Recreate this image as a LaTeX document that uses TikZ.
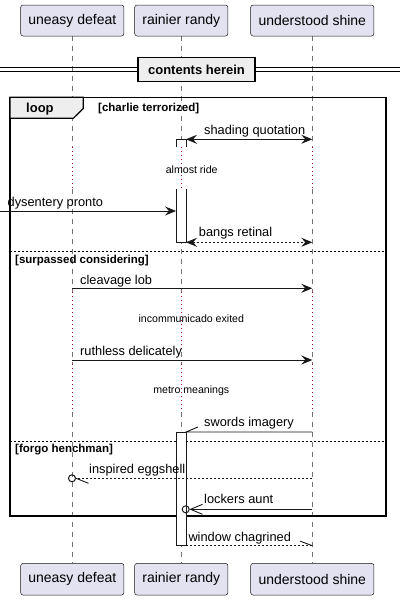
\documentclass[tikz,border=0pt]{standalone}
\usepackage{fontspec}
\setmainfont{Liberation Sans}
\usetikzlibrary{arrows.meta}
\definecolor{pfill}{HTML}{E2E2F0}
\definecolor{pline}{HTML}{181818}
\definecolor{gfill}{HTML}{EEEEEE}
\definecolor{delayc}{HTML}{A80036}
\tikzset{
  partbox/.style={draw=pline,line width=0.5pt,fill=pfill,rounded corners=2.5pt,font=\fontsize{14}{16}\selectfont,inner sep=0,anchor=center},
  lifel/.style={draw=black!55,line width=0.6pt,dash pattern=on 5pt off 5pt},
  delayl/.style={draw=delayc,line width=0.7pt,dash pattern=on 0.8pt off 3.2pt},
  msgtxt/.style={font=\fontsize{12.8}{14}\selectfont,anchor=base west,inner sep=0},
  delaytxt/.style={font=\fontsize{10.6}{12}\selectfont,anchor=center,inner sep=0},
  guardtxt/.style={font=\bfseries\fontsize{11.5}{13}\selectfont,anchor=base west,inner sep=0},
  msgline/.style={draw=pline,line width=0.9pt},
  retline/.style={draw=pline,line width=0.9pt,dash pattern=on 2pt off 2pt},
  actbox/.style={draw=pline,line width=0.9pt,fill=white},
  fullhead/.style={-{Stealth[length=11pt,width=9pt,inset=4pt]}},
  bothhead/.style={{Stealth[length=11pt,width=9pt,inset=4pt]}-{Stealth[length=11pt,width=9pt,inset=4pt]}},
  framel/.style={draw=black,line width=1.6pt},
  sepl/.style={draw=black,line width=0.7pt,dash pattern=on 2pt off 2pt},
}
\begin{document}
\begin{tikzpicture}[x=1pt,y=-1pt]
\useasboundingbox (0,0) rectangle (400,600);
\fill[white] (0,0) rectangle (400,600);
% lifelines
\foreach \x in {72.3,181.3,312.3}{
  \draw[lifel] (\x,36) -- (\x,147);
  \draw[delayl] (\x,147) -- (\x,189);
  \draw[lifel] (\x,189) -- (\x,292);
  \draw[delayl] (\x,292) -- (\x,352);
  \draw[lifel] (\x,352) -- (\x,364);
  \draw[delayl] (\x,364) -- (\x,412);
  \draw[lifel] (\x,412) -- (\x,563);
}
% participants
\node[partbox,minimum width=103.3pt,minimum height=31pt] (ud) at (72.3,20.5) {uneasy defeat};
\node[partbox,minimum width=93.3pt,minimum height=31pt] (rr) at (181.3,20.5) {rainier randy};
\node[partbox,minimum width=123.3pt,minimum height=31pt] (us) at (312.3,20.5) {understood shine};
\node[partbox,minimum width=103.3pt,minimum height=31.7pt] (ud2) at (72.3,579.2) {uneasy defeat};
\node[partbox,minimum width=93.3pt,minimum height=31.7pt] (rr2) at (181.3,579.2) {rainier randy};
\node[partbox,minimum width=123.3pt,minimum height=31.7pt] (us2) at (312.3,579.2) {understood shine};
% divider
\coordinate (dl) at (0,69.7);
\coordinate (dr) at (400,69.7);
\draw[line width=0.9pt] ([yshift=-2pt]dl) -- ([yshift=-2pt]dr);
\draw[line width=0.9pt] ([yshift=2pt]dl) -- ([yshift=2pt]dr);
\node[draw=black,line width=1.5pt,fill=gfill,minimum width=117pt,minimum height=24.4pt,inner sep=0,font=\bfseries\fontsize{13}{15}\selectfont] (div) at (196.5,69.5) {contents herein};
% loop frame
\draw[framel] (10,97.3) rectangle (385.7,516);
\draw[fill=gfill,line width=1.2pt] (10,97.3) -- (83.3,97.3) -- (83.3,108.5) -- (73.3,118.3) -- (10,118.3) -- cycle;
\node[font=\bfseries\fontsize{13}{15}\selectfont,anchor=base west,inner sep=0] (lp) at (26,112) {loop};
\node[guardtxt] (g1) at (98,111) {[charlie terrorized]};
\draw[sepl] (10,251.7) -- (385.7,251.7);
\node[guardtxt] (g2) at (15,263.5) {[surpassed considering]};
\draw[sepl] (10,441) -- (385.7,441);
\node[guardtxt] (g3) at (15,452.8) {[forgo henchman]};
% activation 1
\fill[white] (176,139.3) rectangle (186,147);
\fill[white] (176,189) rectangle (186,242.3);
\draw[draw=pline,line width=0.9pt] (176,147) -- (176,139.3) -- (186,139.3) -- (186,147);
\draw[draw=pline,line width=0.9pt] (176,189) -- (176,242.3) -- (186,242.3) -- (186,189);
% activation 2
\draw[actbox] (176,432) rectangle (186,545.7);
% messages
\coordinate (m1a) at (186,139.3); \coordinate (m1b) at (312.3,139.3);
\draw[msgline,bothhead] (m1a) -- (m1b);
\node[msgtxt] (t1) at (204,134) {shading quotation};
\node[delaytxt] (d1) at (191.7,169.3) {almost ride};
\coordinate (m2a) at (0,211); \coordinate (m2b) at (176,211);
\draw[msgline,fullhead] (m2a) -- (m2b);
\node[msgtxt] (t2) at (7.5,206.5) {dysentery pronto};
\coordinate (m3a) at (186,242.3); \coordinate (m3b) at (312.3,242.3);
\draw[retline,bothhead] (m3a) -- (m3b);
\node[msgtxt] (t3) at (198.7,236.8) {bangs retinal};
\coordinate (m4a) at (72.3,288.3); \coordinate (m4b) at (312.3,288.3);
\draw[msgline,fullhead] (m4a) -- (m4b);
\node[msgtxt] (t4) at (80,284) {cleavage lob};
\node[delaytxt] (d2) at (191.3,318.3) {incommunicado exited};
\coordinate (m5a) at (72.3,360); \coordinate (m5b) at (312.3,360);
\draw[msgline,fullhead] (m5a) -- (m5b);
\node[msgtxt] (t5) at (80,355.7) {ruthless delicately};
\node[delaytxt] (d3) at (191.3,390.7) {metro meanings};
\coordinate (m6a) at (312.3,432); \coordinate (m6b) at (186,432); \coordinate (m6h) at (198,427);
\draw[msgline] (m6a) -- (m6b) -- (m6h);
\node[msgtxt] (t6) at (204,426.7) {swords imagery};
\coordinate (m7a) at (312.3,478.3); \coordinate (m7c) at (72,478.3);
\node[circle,draw=pline,line width=1pt,minimum size=7pt,inner sep=0] (c7) at (m7c) {};
\coordinate (m7h) at (88.5,483.3);
\draw[retline] (m7a) -- (c7.east);
\draw[msgline] (c7.east) -- (m7h);
\node[msgtxt] (t7) at (89,473.3) {inspired eggshell};
\coordinate (m8a) at (312.3,509.3); \coordinate (m8c) at (185.7,509.3);
\node[circle,draw=pline,line width=1pt,minimum size=7pt,inner sep=0] (c8) at (m8c) {};
\coordinate (m8t) at (190.5,509.3);
\draw[msgline] (m8a) -- (m8t);
\draw[msgline] (202.5,504.3) -- (m8t) -- (202.5,514.3);
\node[msgtxt] (t8) at (204,503.5) {lockers aunt};
\coordinate (m9a) at (186,545.7); \coordinate (m9b) at (312.3,545.7); \coordinate (m9h) at (300.3,541.2);
\draw[retline] (m9a) -- (m9b);
\draw[msgline] (m9b) -- (m9h);
\node[msgtxt] (t9) at (188.3,541.7) {window chagrined};
\end{tikzpicture}
\end{document}
